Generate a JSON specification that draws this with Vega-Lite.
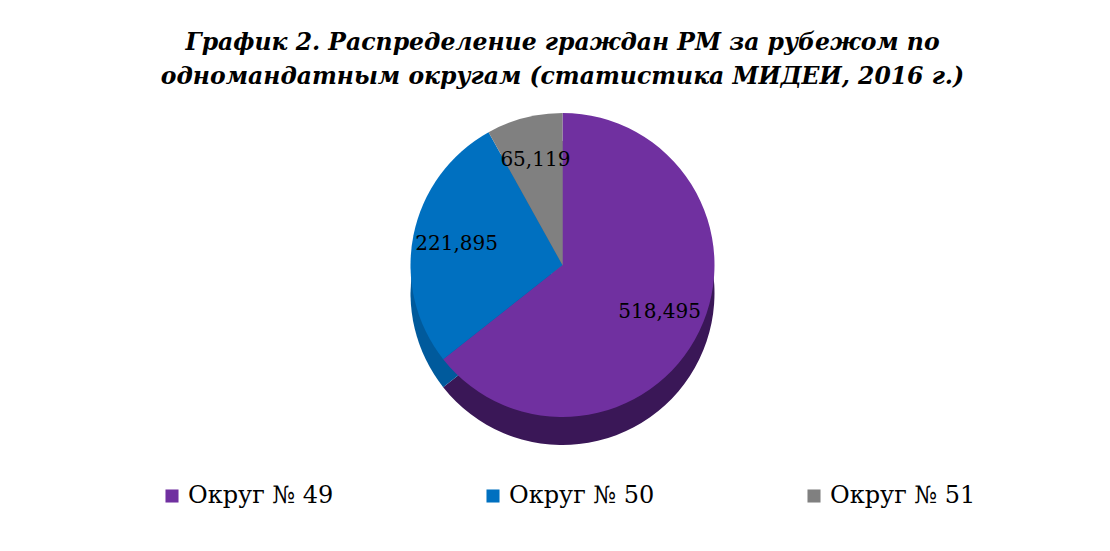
{
  "$schema": "https://vega.github.io/schema/vega-lite/v6.json",
  "width": 1095,
  "height": 310,
  "autosize": {"type": "none"},
  "padding": {"top": 110, "bottom": 131, "left": 15, "right": 0},
  "background": "white",
  "title": {
    "text": ["График 2. Распределение граждан РМ за рубежом по", "одномандатным округам (статистика МИДЕИ, 2016 г.)"],
    "font": "DejaVu Serif",
    "fontSize": 23.5,
    "fontStyle": "italic",
    "fontWeight": "bold",
    "color": "#000000",
    "lineHeight": 34,
    "anchor": "middle",
    "offset": 22
  },
  "data": {
    "values": [
      {"okrug": "Округ № 49", "side": "49", "value": 518495, "order": 1},
      {"okrug": "Округ № 50", "side": "50", "value": 221895, "order": 2},
      {"okrug": "Округ № 51", "side": "51", "value": 65119, "order": 3}
    ]
  },
  "encoding": {
    "theta": {"field": "value", "type": "quantitative", "stack": true},
    "order": {"field": "order", "type": "quantitative"}
  },
  "layer": [
    {
      "mark": {"type": "arc", "outerRadius": 152, "yOffset": 28},
      "encoding": {
        "fill": {
          "field": "side", "type": "nominal", "legend": null,
          "scale": {"domain": ["49", "50", "51"], "range": ["#3a1757", "#005a9c", "#666666"]}
        }
      }
    },
    {
      "mark": {"type": "arc", "outerRadius": 152},
      "encoding": {
        "color": {
          "field": "okrug", "type": "nominal",
          "scale": {"domain": ["Округ № 49", "Округ № 50", "Округ № 51"], "range": ["#7030a0", "#0070c0", "#808080"]},
          "legend": {
            "orient": "none",
            "legendX": 145,
            "legendY": 374,
            "direction": "horizontal",
            "title": null,
            "symbolType": "square",
            "symbolSize": 170,
            "symbolStrokeWidth": 0,
            "labelFont": "DejaVu Serif",
            "labelFontSize": 24,
            "labelColor": "#000000",
            "labelLimit": 300,
            "columnPadding": 147
          }
        }
      }
    },
    {
      "mark": {"type": "text", "radius": 108, "font": "DejaVu Serif", "fontSize": 20, "color": "#000000"},
      "encoding": {
        "text": {"field": "value", "type": "quantitative", "format": ",.0f"}
      }
    }
  ],
  "resolve": {"scale": {"color": "independent", "fill": "independent"}},
  "config": {"view": {"stroke": null}}
}
